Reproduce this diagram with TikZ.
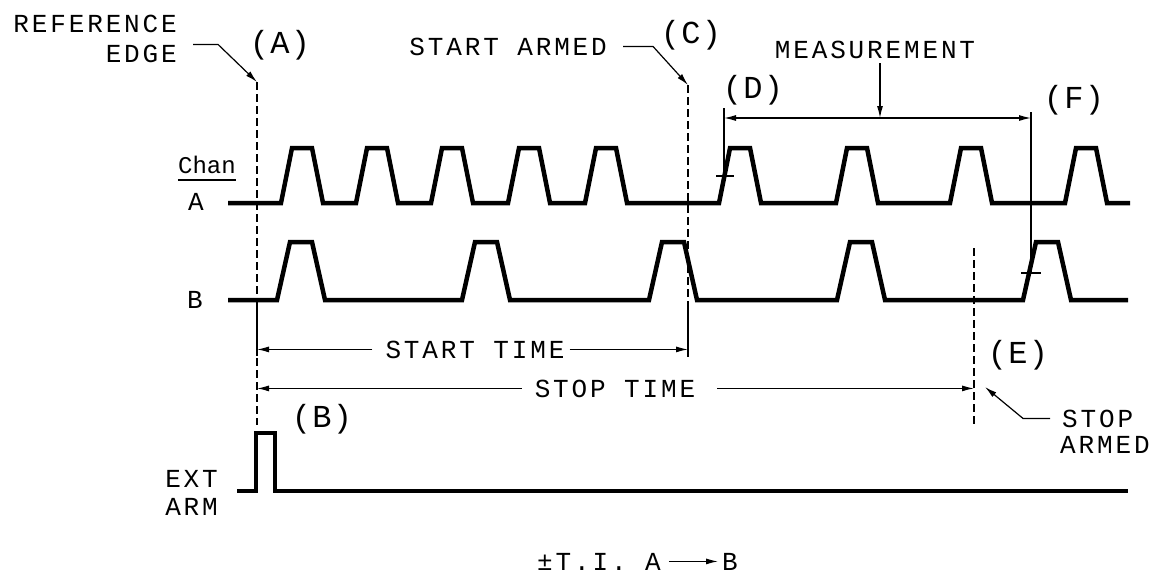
\documentclass[tikz,border=0pt]{standalone}
\usepackage{fontspec}
\usepackage{tikz}
\usetikzlibrary{arrows.meta}
\newfontfamily\drawfont{Liberation Mono}[LetterSpace=11]
\newfontfamily\tagfont{Liberation Mono}[LetterSpace=4]
\newfontfamily\chanfont{Liberation Mono}

\begin{document}
\begin{tikzpicture}[x=1pt,y=-1pt,
  wave/.style={line width=4.5pt},
  guide/.style={line width=1.2pt, dash pattern=on 8pt off 4pt},
  ext/.style={line width=1.2pt},
  dim/.style={line width=1.2pt, -{Latex[length=12pt,width=6pt]}},
  txt/.style={inner sep=0pt, font=\drawfont\fontsize{26}{28}\selectfont},
  tag/.style={inner sep=0pt, font=\tagfont\fontsize{32}{34}\selectfont}]
\useasboundingbox (0,0) rectangle (1156,574);

% channel A
\draw[wave] (228,203) \foreach \c in {302,377,452,529,606,740,857,971,1086} {
  -- ({\c-21},203) -- ({\c-10},148) -- ({\c+10},148) -- ({\c+21},203) } -- (1130,203);
% channel B
\draw[wave] (228,300) \foreach \c in {301,486,673,861,1047} {
  -- ({\c-24},300) -- ({\c-11},242) -- ({\c+11},242) -- ({\c+24},300) } -- (1128,300);
% ext arm
\draw[wave] (237,491) -- (256,491) -- (256,433) -- (275,433) -- (275,491) -- (1128,491);

\coordinate (refTip) at (257,82);
\coordinate (refEnd) at (257,425);
\coordinate (cTip) at (688,85);
\coordinate (cEnd) at (688,357);
\coordinate (eTop) at (974,248);
\coordinate (eEnd) at (974,425);
\coordinate (eTip) at (985,387);
\coordinate (dTop) at (724,108);
\coordinate (dBot) at (724,176);
\coordinate (fTop) at (1031,112);
\coordinate (fBot) at (1031,273);
\coordinate (mL) at (724,118);
\coordinate (mR) at (1031,118);

\draw[guide] (refTip) -- (refEnd);
\draw[ext] (257,306) -- (257,356);
\draw[guide] (cTip) -- (cEnd);
\draw[ext] (688,303) -- (cEnd);
\draw[guide] (eTop) -- (eEnd);
\draw[ext] (dTop) -- (dBot);
\draw[ext] ([xshift=-8pt]dBot) -- ([xshift=10pt]dBot);
\draw[ext] (fTop) -- (fBot);
\draw[ext] ([xshift=-10pt]fBot) -- ([xshift=10pt]fBot);
\draw[dim, {Latex[length=12pt,width=6pt]}-{Latex[length=12pt,width=6pt]}] (mL) -- (mR);

% labels
\node[txt, anchor=base east] (refe) at (177,32) {REFERENCE};
\node[txt, anchor=base east] (edge) at (177,62) {EDGE};
\node[tag, anchor=base] (tagA) at (280,53) {(A)};
\node[txt, anchor=base east] (sarm) at (607,55) {START ARMED};
\node[tag, anchor=base] (tagC) at (691,43) {(C)};
\node[tag, anchor=base] (tagD) at (753,98) {(D)};
\node[txt, anchor=base] (meas) at (875,58) {MEASUREMENT};
\node[tag, anchor=base] (tagF) at (1074,108) {(F)};
\node[inner sep=0pt, font=\chanfont\fontsize{24}{26}\selectfont, anchor=base] (chan) at (207,173) {Chan};
\draw[ext] ([yshift=-7pt]chan.base west) -- ([yshift=-7pt]chan.base east);
\node[txt, anchor=base] (chA) at (196,210) {A};
\node[txt, anchor=base] (chB) at (195,308) {B};
\node[txt, anchor=base] (stt) at (475,358) {START TIME};
\node[txt, anchor=base] (spt) at (615,397) {STOP TIME};
\node[tag, anchor=base] (tagE) at (1018,363) {(E)};
\node[txt, anchor=base west] (stop) at (1062,427) {STOP};
\node[txt, anchor=base west] (armd) at (1060,453) {ARMED};
\node[tag, anchor=base] (tagB) at (322,427) {(B)};
\node[txt, anchor=base east] (ext) at (218,487) {EXT};
\node[txt, anchor=base east] (arm) at (218,515) {ARM};
\node[txt, anchor=base west] (ti) at (537,570) {±T.I. A};
\node[txt, anchor=base west] (tb) at (722,570) {B};

% leaders and time arrows
\draw[dim] ([xshift=16pt]edge.north east) -- +(25pt,0) -- (refTip);
\draw[dim] ([xshift=16pt]sarm.east) -- +(30pt,0) -- (cTip);
\draw[dim] ([xshift=-12pt]stop.west) -- +(-27pt,0) -- (eTip);
\draw[dim] ([xshift=5pt,yshift=-5pt]meas.south) -- ([xshift=5pt]meas.south |- mL);
\draw[dim] ([xshift=-13pt]stt.west) -- (stt.west -| refTip);
\draw[dim] ([xshift=5pt]stt.east) -- (stt.east -| cTip);
\draw[dim] ([xshift=-13pt]spt.west) -- (spt.west -| refTip);
\draw[dim] ([xshift=22pt]spt.east) -- (spt.east -| eTop);
\draw[dim] ([xshift=8pt]ti.east) -- ([xshift=-4pt]tb.west);
\end{tikzpicture}
\end{document}
